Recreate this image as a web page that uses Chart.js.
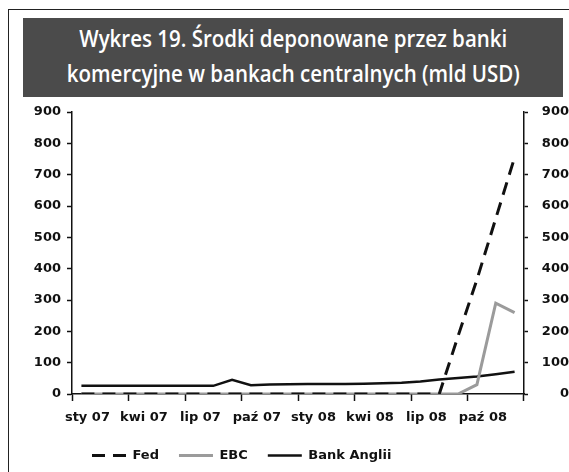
<!DOCTYPE html>
<html lang="pl">
<head>
<meta charset="utf-8">
<title>Wykres 19</title>
<script src="https://cdn.jsdelivr.net/npm/chart.js@4.4.1/dist/chart.umd.min.js"></script>
<style>
  html, body { margin: 0; padding: 0; background: #fff; }
  #wrap { position: relative; width: 569px; height: 472px; overflow: hidden; }
  #c { position: absolute; left: 0; top: 0; }
  .frame-top { position: absolute; left: 8px; top: 9px; width: 561px; border-top: 1.5px solid #222; }
  .frame-left { position: absolute; left: 8px; top: 9px; height: 463px; border-left: 1.5px solid #222; }
  #title { position: absolute; left: 23px; top: 18px; width: 540px; height: 79px; background: #4b4b4b; }
  #title .lines { position: absolute; left: 0; top: 3px; width: 100%; color: #fff; font-family: 'Open Sans'; font-weight: 600; font-size: 23px; line-height: 35px; text-align: center; }
  #title .lines div { white-space: nowrap; }
  #title span { display: inline-block; transform-origin: center; }
</style>
</head>
<body>
<div id="wrap">
  <canvas id="c" width="569" height="472"></canvas>
  <div class="frame-top"></div>
  <div class="frame-left"></div>
  <div id="title">
    <div class="lines">
      <div><span>Wykres 19. Środki deponowane przez banki</span></div>
      <div><span>komercyjne w bankach centralnych (mld USD)</span></div>
    </div>
  </div>
</div>
<script>
// miesiące (sty 07 - gru 08), etykiety co kwartał
const months = ['sty 07', 'lut 07', 'mar 07', 'kwi 07', 'maj 07', 'cze 07',
                'lip 07', 'sie 07', 'wrz 07', 'paź 07', 'lis 07', 'gru 07',
                'sty 08', 'lut 08', 'mar 08', 'kwi 08', 'maj 08', 'cze 08',
                'lip 08', 'sie 08', 'wrz 08', 'paź 08', 'lis 08', 'gru 08'];

// mld USD
const fed        = [0, 0, 0, 0, 0, 0, 0, 0, 0, 0, 0, 0,
                    0, 0, 0, 0, 0, 0, 0, 0, 185, 365, 560, 755];
const ebc        = [0, 0, 0, 0, 0, 0, 0, 0, 0, 0, 0, 0,
                    0, 0, 0, 0, 0, 0, 0, 0, 0, 30, 290, 260];
const bankAnglii = [26, 26, 26, 26, 26, 26, 26, 26, 45, 28, 30, 31,
                    32, 32, 32, 33, 34, 36, 40, 46, 51, 56, 63, 71];

const seriesNames = ['Fed', 'EBC', 'Bank Anglii'];
const yMin = 0, yMax = 900, yStep = 100;

// dopasowanie szerokości tytułu
function fitTitle() {
  const spans = document.querySelectorAll('#title span');
  spans.forEach(s => s.style.transform = '');
  const w = spans[1].getBoundingClientRect().width;
  const k = 453 / w;
  spans.forEach(s => s.style.transform = 'scaleX(' + k + ')');
}
fitTitle();
if (document.fonts) document.fonts.ready.then(fitTitle);

Chart.defaults.font.family = 'DejaVu Sans';
Chart.defaults.font.size = 13;
Chart.defaults.font.weight = 'bold';
Chart.defaults.color = '#111';

const dark = '#111';
const quarterTick = c => (c.index === undefined || c.index % 3 === 0) ? dark : 'rgba(0,0,0,0)';

const ctx = document.getElementById('c').getContext('2d');
const chart = new Chart(ctx, {
  type: 'line',
  data: {
    labels: months,
    datasets: [
      {
        label: seriesNames[0],
        data: fed,
        borderColor: dark,
        backgroundColor: dark,
        borderWidth: 3,
        borderDash: [13, 8]
      },
      {
        label: seriesNames[1],
        data: ebc,
        borderColor: '#9b9b9b',
        backgroundColor: '#9b9b9b',
        borderWidth: 3
      },
      {
        label: seriesNames[2],
        data: bankAnglii,
        borderColor: dark,
        backgroundColor: dark,
        borderWidth: 2.5
      }
    ]
  },
  options: {
    responsive: false,
    animation: false,
    devicePixelRatio: 1,
    events: [],
    elements: {
      point: { radius: 0 },
      line: { tension: 0, fill: false }
    },
    layout: {
      padding: { top: 112, left: 0, right: 0, bottom: 0 }
    },
    scales: {
      x: {
        type: 'category',
        offset: true,
        grid: {
          offset: true,
          drawOnChartArea: false,
          tickLength: 7,
          tickWidth: 1.5,
          tickColor: quarterTick
        },
        border: { color: dark, width: 1.5 },
        ticks: {
          autoSkip: false,
          maxRotation: 0,
          minRotation: 0,
          padding: 9,
          labelOffset: 6,
          callback: function (value, index) {
            return index % 3 === 0 ? this.getLabelForValue(value) : '';
          }
        },
        afterFit: s => { s.height = 35; }
      },
      y: {
        position: 'left',
        min: yMin,
        max: yMax,
        ticks: { stepSize: yStep, padding: 6 },
        grid: { drawOnChartArea: false, tickLength: 5, tickWidth: 1.5, tickColor: dark },
        border: { color: dark, width: 1.5 },
        afterFit: s => { s.width = 72; }
      },
      y2: {
        position: 'right',
        min: yMin,
        max: yMax,
        ticks: { stepSize: yStep, padding: 5, crossAlign: 'far' },
        grid: { drawOnChartArea: false, tickLength: 4, tickWidth: 1.5, tickColor: dark },
        border: { color: dark, width: 1.5 },
        afterFit: s => { s.width = 45; }
      }
    },
    plugins: {
      title: { display: false },
      tooltip: { enabled: false },
      legend: {
        position: 'bottom',
        fullSize: false,
        align: 'start',
        labels: {
          usePointStyle: true,
          pointStyle: 'line',
          pointStyleWidth: 34,
          padding: 20,
          color: dark,
          // linia w legendzie ma ten sam styl co seria (przerywana dla Fed)
          generateLabels: c => Chart.defaults.plugins.legend.labels.generateLabels(c).map(item => {
            const ds = c.data.datasets[item.datasetIndex];
            item.lineDash = ds.borderDash || [];
            item.lineWidth = ds.borderWidth;
            item.strokeStyle = ds.borderColor;
            return item;
          })
        }
      }
    }
  }
});
</script>
</body>
</html>
